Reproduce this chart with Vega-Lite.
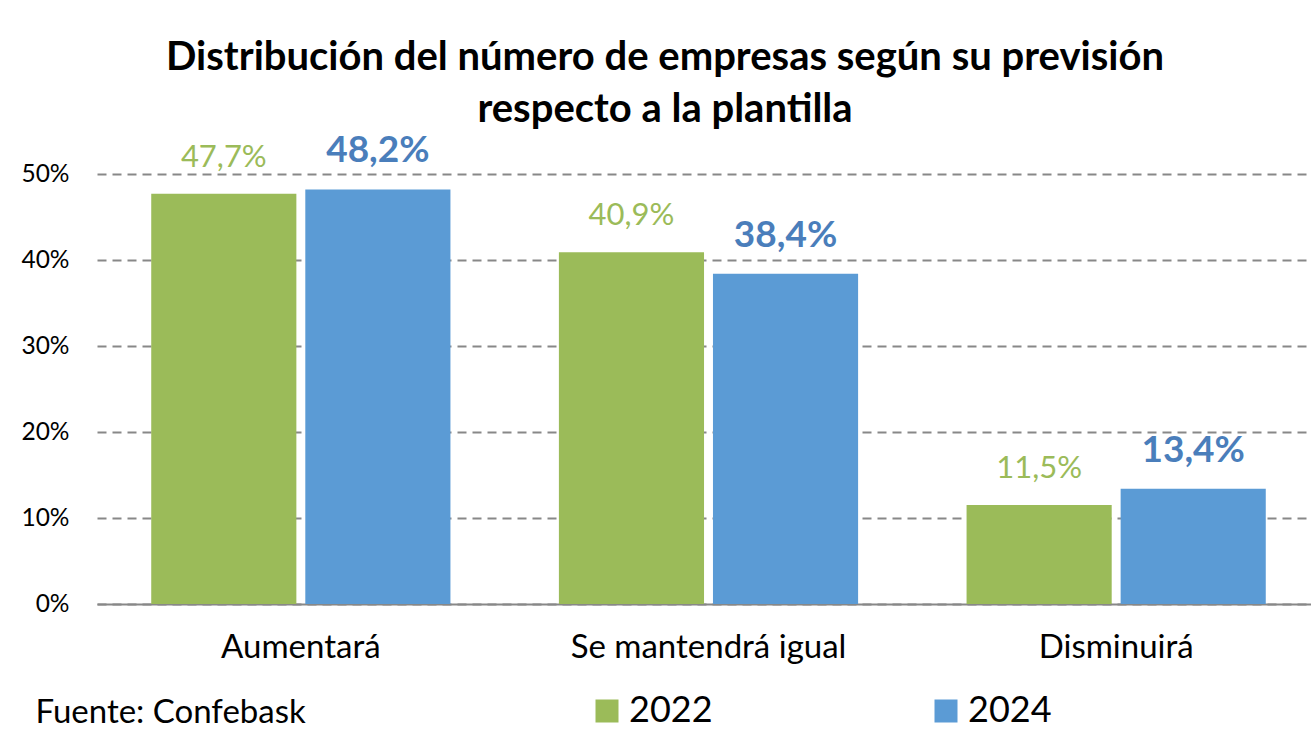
{
  "$schema": "https://vega.github.io/schema/vega-lite/v6.json",
  "width": 1214,
  "height": 430,
  "autosize": {"type": "none"},
  "padding": {"left": 97, "top": 174, "right": 0, "bottom": 135},
  "background": "white",
  "config": {
    "view": {"stroke": null},
    "font": "Lato",
    "locale": {"number": {"decimal": ",", "thousands": ".", "grouping": [3], "currency": ["", " €"]}}
  },
  "title": {
    "text": ["Distribución del número de empresas según su previsión", "respecto a la plantilla"],
    "fontSize": 40,
    "fontWeight": "bold",
    "font": "Lato",
    "color": "#000000",
    "anchor": "middle",
    "frame": "group",
    "dx": -39,
    "offset": 2,
    "lineHeight": 52
  },
  "data": {
    "values": [
      {"categoria": "Aumentará", "anio": "2022", "valor": 0.477},
      {"categoria": "Aumentará", "anio": "2024", "valor": 0.482},
      {"categoria": "Se mantendrá igual", "anio": "2022", "valor": 0.409},
      {"categoria": "Se mantendrá igual", "anio": "2024", "valor": 0.384},
      {"categoria": "Disminuirá", "anio": "2022", "valor": 0.115},
      {"categoria": "Disminuirá", "anio": "2024", "valor": 0.134}
    ]
  },
  "encoding": {
    "x": {
      "field": "categoria",
      "type": "nominal",
      "sort": ["Aumentará", "Se mantendrá igual", "Disminuirá"],
      "scale": {"range": [0, 1223], "paddingInner": 0, "paddingOuter": 0},
      "axis": {
        "title": "Fuente: Confebask",
        "titleFont": "Lato",
        "titleFontSize": 33,
        "titleFontWeight": "normal",
        "titleColor": "#000000",
        "titleAnchor": "start",
        "titleAlign": "left",
        "titleBaseline": "middle",
        "titleX": -62,
        "titleY": 108,
        "labelAngle": 0,
        "labelFontSize": 33,
        "labelColor": "#000000",
        "labelPadding": 27,
        "labelLimit": 0,
        "ticks": false,
        "domainColor": "#888888",
        "domainWidth": 2,
        "grid": false
      }
    },
    "xOffset": {
      "field": "anio",
      "type": "nominal",
      "scale": {"paddingInner": 0.058, "paddingOuter": 0.352}
    },
    "y": {
      "field": "valor",
      "type": "quantitative",
      "scale": {"domain": [0, 0.5], "nice": false},
      "axis": {
        "title": null,
        "values": [0, 0.1, 0.2, 0.3, 0.4, 0.5],
        "format": ".0%",
        "labelFontSize": 24.5,
        "labelColor": "#000000",
        "labelPadding": 28,
        "ticks": false,
        "domain": false,
        "grid": true,
        "gridColor": "#888888",
        "gridWidth": 2,
        "gridDash": [9, 6]
      }
    }
  },
  "layer": [
    {
      "mark": {"type": "bar"},
      "encoding": {
        "color": {
          "field": "anio",
          "type": "nominal",
          "scale": {"domain": ["2022", "2024"], "range": ["#9BBB59", "#5B9BD5"]},
          "legend": {
            "title": null,
            "orient": "none",
            "direction": "horizontal",
            "legendX": 492,
            "legendY": 519,
            "padding": 0,
            "symbolType": "square",
            "symbolSize": 529,
            "symbolStrokeWidth": 0,
            "labelFontSize": 36,
            "labelColor": "#000000",
            "labelOffset": 4,
            "columnPadding": 215
          }
        }
      }
    },
    {
      "transform": [{"filter": "datum.anio === '2022'"}],
      "mark": {"type": "text", "baseline": "alphabetic", "dy": -27, "fontSize": 31, "color": "#9BBB59", "fontWeight": "normal"},
      "encoding": {"text": {"field": "valor", "type": "quantitative", "format": ".1%"}}
    },
    {
      "transform": [{"filter": "datum.anio === '2024'"}],
      "mark": {"type": "text", "baseline": "alphabetic", "dy": -27, "fontSize": 37, "color": "#4A7EBB", "fontWeight": "bold"},
      "encoding": {"text": {"field": "valor", "type": "quantitative", "format": ".1%"}}
    }
  ]
}
